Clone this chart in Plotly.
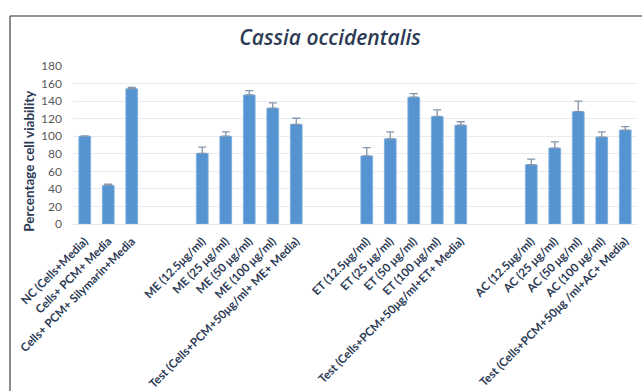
import plotly.graph_objects as go

# Treatment groups (blank slots separate the groups on the category axis)
controls = ["NC (Cells+Media)", "Cells+ PCM+ Media", "Cells+ PCM+ Silymarin+Media"]
me_labels = ["ME (12.5μg/ml)", "ME (25 μg/ml)", "ME (50 μg/ml)", "ME (100 μg/ml)",
             "Test (Cells+PCM+50μg/ml+ ME+ Media)"]
et_labels = ["ET (12.5μg/ml)", "ET (25 μg/ml)", "ET (50 μg/ml)", "ET (100 μg/ml)",
             "Test (Cells+PCM+50μg/ml+ET+ Media)"]
ac_labels = ["AC (12.5μg/ml)", "AC (25 μg/ml)", "AC (50 μg/ml)", "AC (100 μg/ml)",
             "Test (Cells+PCM+50μg /ml+AC+ Media)"]

# Percentage cell viability (mean) and standard error per treatment
controls_val = [100, 44, 154]
controls_err = [0.5, 1.5, 1.5]
me_val = [80.5, 100, 147, 132, 113.5]
me_err = [7, 5, 5, 6, 7]
et_val = [77.5, 97, 144.5, 122.5, 112.5]
et_err = [9.5, 8, 4, 7.5, 4]
ac_val = [67.5, 86.5, 128, 99, 107]
ac_err = [6.5, 7, 12, 6, 4]

y_ticks = [0, 20, 40, 60, 80, 100, 120, 140, 160, 180]

groups = [(controls, controls_val, controls_err),
          (me_labels, me_val, me_err),
          (et_labels, et_val, et_err),
          (ac_labels, ac_val, ac_err)]

# Category order with two empty slots between groups
order, xs, ys, es = [], [], [], []
for gi, (labs, vals, errs) in enumerate(groups):
    if gi > 0:
        order += [f"_gap{gi}a", f"_gap{gi}b"]
    order += labs
    xs += labs
    ys += vals
    es += errs
real_labels = xs

text_col = "#2c3a55"

fig = go.Figure(go.Bar(
    x=xs, y=ys,
    marker=dict(color="#5693d1", line=dict(color="#7aaee0", width=0.8)),
    error_y=dict(type="data", array=es, arrayminus=[0] * len(es), symmetric=False,
                 color="#8595ab", thickness=1.3, width=4),
))

fig.update_layout(
    width=642, height=391,
    margin=dict(l=73, r=5, t=66, b=167),
    paper_bgcolor="white", plot_bgcolor="white",
    bargap=0.5,
    showlegend=False,
    font=dict(family="Lato, Open Sans, sans-serif"),
    title=dict(text="<i>Cassia occidentalis</i>", x=0.514, xanchor="center",
               y=1 - 38 / 391, yanchor="middle",
               font=dict(size=21, color=text_col, family="Open Sans, Lato, sans-serif",
                         weight=600)),
    xaxis=dict(type="category", categoryorder="array", categoryarray=order,
               range=[-0.5, len(order) - 0.5], automargin=False,
               tickmode="array", tickvals=real_labels, ticktext=real_labels,
               tickangle=-45, showgrid=False, ticks="", ticklabelstandoff=5,
               showline=True, linecolor="#e3e6ea", linewidth=1,
               tickfont=dict(size=11.6, color=text_col, family="Lato, sans-serif", weight="bold")),
    yaxis=dict(range=[0, 180], tickmode="array", tickvals=y_ticks, automargin=False,
               showgrid=True, gridcolor="#e8ecf0", gridwidth=1,
               zeroline=False, ticks="", ticklabelstandoff=10,
               tickfont=dict(size=12, color="#5a5a5a")),
    annotations=[dict(text="<b>Percentage cell viability</b>", textangle=-90,
                      xref="paper", yref="paper", x=(29 - 73) / 564, y=0.40,
                      xanchor="center", yanchor="middle", showarrow=False,
                      font=dict(size=13.5, color=text_col))],
    shapes=[
        dict(type="line", xref="paper", yref="paper",
             x0=(10 - 73) / 564, x1=(10 - 73) / 564,
             y0=(224 - 400) / 158, y1=(224 - 16) / 158,
             line=dict(color="#6f6f6f", width=1.6)),
        dict(type="line", xref="paper", yref="paper",
             x0=(10 - 73) / 564, x1=1.1,
             y0=(224 - 16) / 158, y1=(224 - 16) / 158,
             line=dict(color="#6f6f6f", width=1.6)),
    ],
)

fig.write_html("out.html")
